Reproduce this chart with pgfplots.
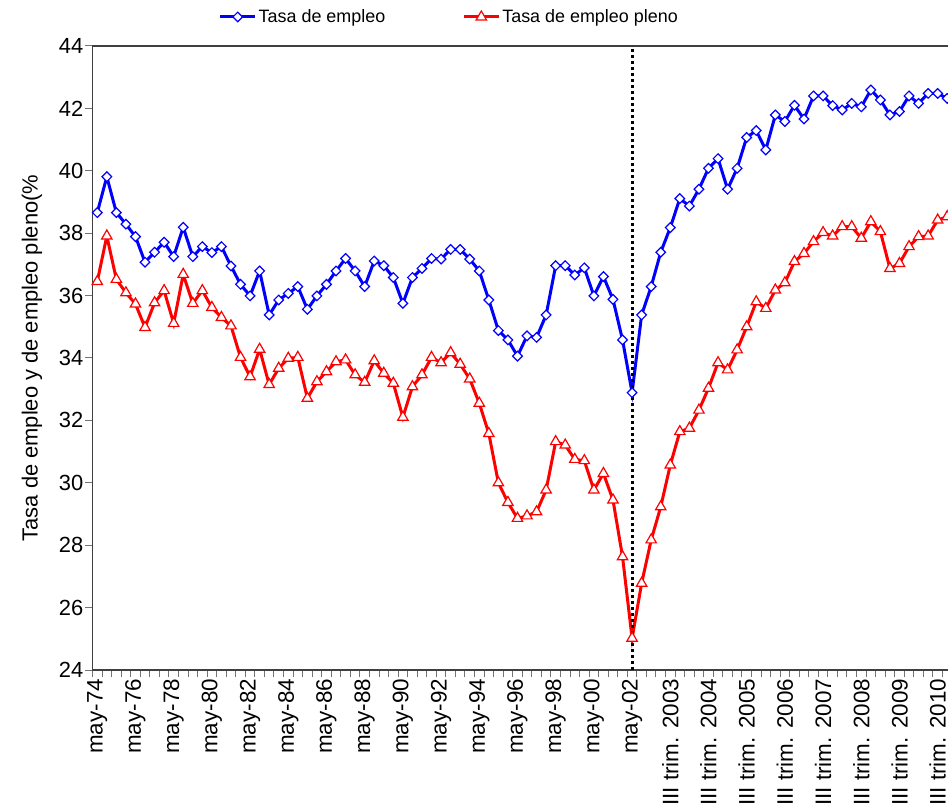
\documentclass[border=0pt]{standalone}
\usepackage{fontspec}
\setmainfont{Liberation Sans}
\usepackage{pgfplots}
\pgfplotsset{compat=1.18}
\usepackage{pgfplotstable}

\pgfplotstableread{
x y
0 38.66
1 39.81
2 38.66
3 38.29
4 37.89
5 37.07
6 37.39
7 37.71
8 37.25
9 38.19
10 37.25
11 37.57
12 37.38
13 37.57
14 36.95
15 36.36
16 35.99
17 36.79
18 35.38
19 35.86
20 36.07
21 36.29
22 35.56
23 35.99
24 36.36
25 36.79
26 37.19
27 36.79
28 36.29
29 37.11
30 36.96
31 36.58
32 35.75
33 36.58
34 36.87
35 37.19
36 37.17
37 37.48
38 37.48
39 37.17
40 36.79
41 35.86
42 34.88
43 34.58
44 34.06
45 34.71
46 34.66
47 35.38
48 36.96
49 36.96
50 36.66
51 36.89
52 35.99
53 36.61
54 35.88
55 34.58
56 32.89
57 35.38
58 36.29
59 37.39
60 38.18
61 39.11
62 38.87
63 39.41
64 40.08
65 40.39
66 39.41
67 40.08
68 41.07
69 41.29
70 40.67
71 41.79
72 41.58
73 42.10
74 41.66
75 42.40
76 42.40
77 42.09
78 41.95
79 42.16
80 42.05
81 42.59
82 42.27
83 41.79
84 41.90
85 42.40
86 42.16
87 42.48
88 42.48
89 42.32
}\empleo

\pgfplotstableread{
x y
0 36.45
1 37.91
2 36.52
3 36.09
4 35.73
5 34.98
6 35.77
7 36.16
8 35.11
9 36.68
10 35.75
11 36.16
12 35.62
13 35.30
14 35.03
15 34.02
16 33.40
17 34.28
18 33.15
19 33.67
20 33.99
21 34.02
22 32.71
23 33.24
24 33.56
25 33.88
26 33.94
27 33.46
28 33.22
29 33.91
30 33.51
31 33.19
32 32.10
33 33.08
34 33.46
35 34.02
36 33.85
37 34.17
38 33.80
39 33.33
40 32.55
41 31.58
42 30.00
43 29.37
44 28.86
45 28.94
46 29.07
47 29.77
48 31.32
49 31.21
50 30.75
51 30.71
52 29.77
53 30.30
54 29.45
55 27.63
56 25.02
57 26.78
58 28.17
59 29.23
60 30.57
61 31.64
62 31.75
63 32.33
64 33.03
65 33.85
66 33.62
67 34.26
68 35.00
69 35.80
70 35.59
71 36.18
72 36.41
73 37.09
74 37.35
75 37.73
76 38.02
77 37.91
78 38.21
79 38.21
80 37.84
81 38.37
82 38.05
83 36.87
84 37.03
85 37.57
86 37.89
87 37.91
88 38.42
89 38.53
}\pleno

\begin{document}
\begin{tikzpicture}
\useasboundingbox (-92.5bp,-138bp) rectangle (855.5bp,670bp);
\begin{axis}[
  at={(0,0)}, anchor=south west,
  scale only axis, width=855.5bp, height=624bp,
  xmin=-0.5, xmax=89.08, ymin=24, ymax=44,
  ytick={24,26,...,44},
  xtick={-0.5,0.5,...,89.5},
  xticklabels={},
  extra x ticks={0,4,...,88},
  extra x tick labels={may-74,may-76,may-78,may-80,may-82,may-84,may-86,may-88,may-90,may-92,may-94,may-96,may-98,may-00,may-02,III trim. 2003,III trim. 2004,III trim. 2005,III trim. 2006,III trim. 2007,III trim. 2008,III trim. 2009,III trim. 2010},
  extra x tick style={major tick length=0pt},
  tick align=outside,
  xtick pos=bottom, ytick pos=left,
  major tick length=7bp,
  every tick/.style={black!55, line width=1bp},
  axis y line*=left, axis x line*=box,
  every non boxed y axis/.append style={y axis line style={-}},
  axis line style={black!75, line width=1.6bp},
  /pgf/number format/assume math mode=true,
  yticklabel style={font=\fontsize{22}{26}\selectfont, inner sep=2bp},
  xticklabel style={font=\fontsize{22.5}{26}\selectfont, rotate=90, anchor=east, inner sep=2bp, outer sep=7bp},
  ylabel={Tasa de empleo y de empleo pleno(\%},
  every axis y label/.style={at={(axis description cs:-0.0708,0.5)}, rotate=90, anchor=center, font=\fontsize{22}{26}\selectfont},
  legend columns=2,
  legend cell align=left,
  legend style={at={(axis description cs:0.417,1.0465)}, anchor=center, draw=none, fill=none,
    font=\fontsize{18}{21}\selectfont, nodes={inner sep=2bp},
    /tikz/every even column/.append style={column sep=75bp}},
  legend image code/.code={\draw[mark repeat=2,mark phase=2,#1] plot coordinates {(0bp,0bp) (17.5bp,0bp) (35bp,0bp)};},
]
\addplot[color=blue, line width=3bp, mark=square*, mark size=3.4bp,
  mark options={rotate=45, fill=white, draw=blue, line width=1.2bp, solid}] table[x=x,y=y] {\empleo};
\addlegendentry{Tasa de empleo}
\addplot[color=red, line width=3bp, mark=triangle*, mark size=6bp,
  mark options={fill=white, draw=red, line width=1.2bp, solid}] table[x=x,y=y] {\pleno};
\addlegendentry{Tasa de empleo pleno}
\addplot[black, line width=3bp, dash pattern=on 3bp off 3bp, forget plot] coordinates {(56,24) (56,44)};
\end{axis}
\end{tikzpicture}
\end{document}
